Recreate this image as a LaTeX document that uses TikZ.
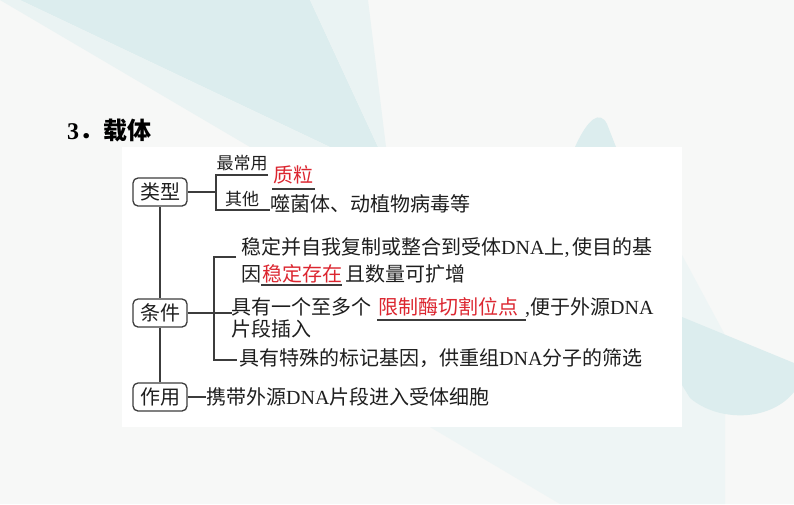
\documentclass[tikz,border=0pt]{standalone}
\usepackage{fontspec}
\setmainfont{Noto Sans CJK SC}
\newfontfamily\lat{Liberation Serif}
\usetikzlibrary{calc}
\definecolor{bgbase}{HTML}{F7F8F7}
\definecolor{bgA}{HTML}{DCEDEE}
\definecolor{bgB}{HTML}{EAF3F3}
\definecolor{bgC}{HTML}{EEF5F5}
\definecolor{ink}{HTML}{1E1E1E}
\definecolor{lineink}{HTML}{3C3C3C}
\definecolor{hl}{HTML}{DC2630}
\tikzset{
  box/.style={draw=lineink, line width=1.3pt, rounded corners=5pt, minimum width=54pt,
    minimum height=28pt, inner sep=0pt, font=\fontsize{20}{24}\selectfont, text=ink},
  txt/.style={anchor=base west, inner sep=0pt, font=\fontsize{20}{24}\selectfont, text=ink},
  small/.style={anchor=base, inner sep=0pt, font=\fontsize{17}{20}\selectfont, text=ink},
  redtxt/.style={txt, text=hl},
  conn/.style={draw=lineink, line width=1.2pt},
  uline/.style={draw=lineink, line width=1.2pt}
}
\begin{document}
\begin{tikzpicture}[x=1pt,y=-1pt]
\useasboundingbox (0,0) rectangle (794,504);
% background
\fill[bgbase] (0,0) rectangle (794,504);
\fill[bgA] (20,0) -- (310,0) -- (378,147) -- (330,147) -- cycle;
\fill[bgB] (310,0) -- (368,0) -- (386,147) -- (378,147) -- cycle;
\fill[bgB] (0,0) -- (20,0) -- (330,147) -- (250,147) -- cycle;
\fill[bgA] (575,147) .. controls (588,118) and (600,110) .. (607,124) -- (616,147) -- cycle;
\fill[bgC] (430,427) -- (682,427) -- (682,255) -- (725,335) -- (725,504) -- (560,504) -- cycle;
\fill[bgA] (682,317) -- (794,363) -- (794,392) .. controls (770,422) and (718,422) .. (690,398) -- (682,385) -- cycle;
% panel
\fill[white] (122,147) rectangle (682,427);
% title
\node[anchor=base west, inner sep=0pt, font=\fontsize{24}{28}\selectfont\bfseries, text=black] (title) at (67,139) {{\lat\bfseries 3}．载体};
% main boxes
\node[box] (lx) at (160,192) {类型};
\node[box] (tj) at (160,313) {条件};
\node[box] (zy) at (160,397) {作用};
\draw[conn] (lx.south) -- (tj.north);
\draw[conn] (tj.south) -- (zy.north);
% 类型 branch
\coordinate (b1m) at (216,192);
\coordinate (b1t) at (216,175);
\coordinate (b1b) at (216,210);
\coordinate (b1te) at (268,175);
\coordinate (b1be) at (270,210);
\draw[conn] (lx.east) -- (b1m);
\draw[conn] (b1te) -- (b1t) -- (b1b) -- (b1be);
\node[small] (zcy) at (242,169) {最常用};
\node[small] (qt) at (242,205) {其他};
\node[redtxt] (zl) at (273,182.5) {质粒};
\draw[uline] ([xshift=-1pt]zl.west |- 0,189) coordinate (u1a) -- ([xshift=2pt]zl.east |- 0,189) coordinate (u1b);
\node[txt] (sjt) at (270,211.5) {噬菌体、动植物病毒等};
% 条件 branch
\coordinate (b2t) at (214,257);
\coordinate (b2b) at (214,360);
\coordinate (b2te) at (236,257);
\coordinate (b2be) at (237,360);
\coordinate (b2m) at (232,313);
\draw[conn] (b2te) -- (b2t) -- (b2b) -- (b2be);
\draw[conn] (tj.east) -- (b2m);
\node[txt] (l1) at (241,254.5) {稳定并自我复制或整合到受体{\lat DNA}上{\lat ,\,}使目的基};
\node[txt] (l2a) at (241,281.5) {因};
\node[redtxt, anchor=base west] (l2b) at ([xshift=1pt]l2a.base east) {稳定存在};
\node[txt] (l2c) at ([xshift=2pt]l2b.base east) {且数量可扩增};
\draw[uline] ([xshift=-1pt]l2b.base west) ++(0,3.5) -- ++(81,0);
\node[txt] (l3a) at (231,314.5) {具有一个至多个};
\node[redtxt] (l3b) at (378,314.5) {限制酶切割位点};
\node[txt] (l3c) at (525,314.5) {{\lat ,}便于外源{\lat DNA}};
\draw[uline] ([xshift=-1pt]l3b.base west) ++(0,5.5) -- ++(149,0);
\node[txt] (l4) at (231,336.5) {片段插入};
\node[txt] (l5) at (239,365.5) {具有特殊的标记基因，供重组{\lat DNA}分子的筛选};
% 作用 branch
\node[txt] (l6) at (206,404.5) {携带外源{\lat DNA}片段进入受体细胞};
\draw[conn] (zy.east) -- (l6.west |- zy.east);
\end{tikzpicture}
\end{document}
